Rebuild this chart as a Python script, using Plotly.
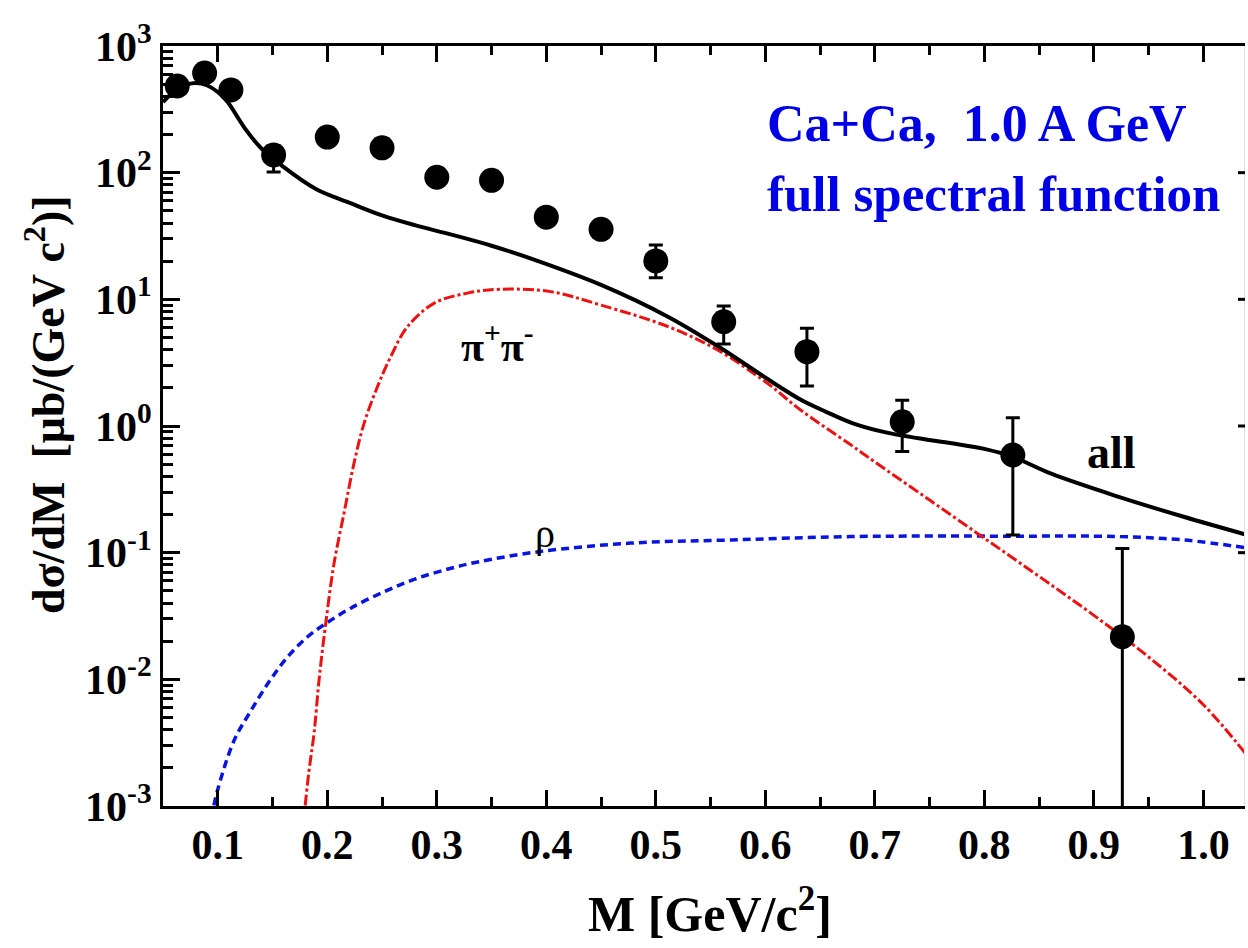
import plotly.graph_objects as go

# ---------------- data ----------------
m_data = [0.063, 0.088, 0.112, 0.151, 0.200, 0.250, 0.300, 0.350, 0.400, 0.450,
          0.500, 0.562, 0.638, 0.725, 0.826, 0.926]
y_data = [483, 612, 450, 138, 191, 157, 92, 87, 44.5, 35.7,
          20.1, 6.65, 3.86, 1.08, 0.59, 0.0217]
err_hi = [0, 0, 0, 25, 0, 0, 0, 0, 0, 0,
          6.7, 2.2, 2.05, 0.52, 0.57, 0.086]
err_lo = [0, 0, 0, 37, 0, 0, 0, 0, 0, 0,
          5.3, 2.21, 1.79, 0.45, 0.452, 0.0216]

m_all = [0.050, 0.065, 0.080, 0.090, 0.100, 0.109, 0.124, 0.139, 0.160, 0.190,
         0.220, 0.250, 0.280, 0.310, 0.350, 0.390, 0.450, 0.511, 0.556, 0.602,
         0.632, 0.655, 0.680, 0.710, 0.740, 0.770, 0.800, 0.826, 0.861, 0.922,
         0.982, 1.040]
y_all = [361, 470, 510, 490, 433, 361, 229, 158, 111, 74,
         58, 46, 38.5, 33, 26.5, 20.4, 13.0, 7.3, 4.3, 2.35,
         1.62, 1.30, 1.05, 0.89, 0.80, 0.73, 0.66, 0.57, 0.42, 0.277,
         0.192, 0.138]

m_pipi = [0.178, 0.183, 0.188, 0.1925, 0.1986, 0.2062, 0.2153, 0.2244, 0.2336, 0.2458,
          0.2579, 0.2732, 0.2974, 0.328, 0.358, 0.404, 0.450, 0.511, 0.556, 0.602,
          0.632, 0.678, 0.700, 0.750, 0.800, 0.850, 0.900, 0.950, 1.000, 1.040]
y_pipi = [0.0007, 0.0018, 0.0038, 0.0099, 0.0277, 0.0824, 0.205, 0.507, 1.05, 2.04,
          3.52, 6.08, 9.3, 11.2, 12.0, 11.5, 9.0, 6.1, 4.0, 2.17,
          1.34, 0.71, 0.52, 0.26, 0.13, 0.065, 0.032, 0.015, 0.0063, 0.0025]

m_rho = [0.094, 0.100, 0.115, 0.130, 0.148, 0.164, 0.182, 0.199, 0.221, 0.252,
         0.282, 0.313, 0.339, 0.394, 0.477, 0.569, 0.678, 0.825, 0.922, 0.982,
         1.040]
y_rho = [0.0008, 0.00135, 0.0033, 0.0056, 0.0099, 0.0151, 0.0217, 0.0277, 0.0363, 0.0492,
         0.0627, 0.0753, 0.085, 0.102, 0.119, 0.126, 0.134, 0.135, 0.134, 0.126,
         0.109]

x_tick_vals = [0.1, 0.2, 0.3, 0.4, 0.5, 0.6, 0.7, 0.8, 0.9, 1.0]
x_tick_text = ["0.1", "0.2", "0.3", "0.4", "0.5", "0.6", "0.7", "0.8", "0.9", "1.0"]
y_tick_vals = [1e-3, 1e-2, 1e-1, 1e0, 1e1, 1e2, 1e3]
y_tick_text = ["10<sup>-3</sup>", "10<sup>-2</sup>", "10<sup>-1</sup>", "10<sup>0</sup>",
               "10<sup>1</sup>", "10<sup>2</sup>", "10<sup>3</sup>"]

# ---------------- layout geometry ----------------
W, H = 1248, 948
L, R, T, B = 163, 1245, 46, 806
PW, PH = R - L, B - T
X_RANGE = [0.05, 1.038]
Y_RANGE = [-3, 3]
SERIF = "Liberation Serif"
DX = (X_RANGE[1] - X_RANGE[0]) / PW      # data units per pixel (x)


def px(xp):
    return (xp - L) / PW


def py(yp):
    return (B - yp) / PH


fig = go.Figure()

fig.add_trace(go.Scatter(x=m_rho, y=y_rho, mode="lines", line_shape="spline",
                         line=dict(color="#0a14e0", width=3.5, dash="8px,5px"),
                         showlegend=False))
fig.add_trace(go.Scatter(x=m_pipi, y=y_pipi, mode="lines", line_shape="spline",
                         line=dict(color="#ee1111", width=3, dash="11px,3px,3px,3px"),
                         showlegend=False))
fig.add_trace(go.Scatter(x=m_all, y=y_all, mode="lines", line_shape="spline",
                         line=dict(color="black", width=4), showlegend=False))
fig.add_trace(go.Scatter(x=m_data, y=y_data, mode="markers",
                         marker=dict(color="black", size=25),
                         error_y=dict(type="data", array=err_hi, arrayminus=err_lo,
                                      symmetric=False, color="black",
                                      thickness=3, width=7),
                         showlegend=False))

# faint right-hand frame with short major ticks (placed through the axes' scales)
fig.add_trace(go.Scatter(x=[X_RANGE[1], X_RANGE[1]],
                         y=[10 ** Y_RANGE[0], 10 ** Y_RANGE[1]], mode="lines",
                         line=dict(color="#e0e0e0", width=2), cliponaxis=False,
                         hoverinfo="skip", showlegend=False))
rx, ry = [], []
for v in y_tick_vals[1:-1]:
    rx += [X_RANGE[1], X_RANGE[1] - 7 * DX, None]
    ry += [v, v, None]
fig.add_trace(go.Scatter(x=rx, y=ry, mode="lines", line=dict(color="black", width=3),
                         cliponaxis=False, hoverinfo="skip", showlegend=False))

axis_font = dict(family=SERIF, size=42, color="black")

fig.update_layout(
    width=W, height=H,
    margin=dict(l=L, r=W - R, t=T, b=H - B),
    plot_bgcolor="white",
    xaxis=dict(range=X_RANGE, showline=True, linecolor="black", linewidth=3,
               mirror="ticks", showgrid=False, zeroline=False,
               ticks="inside", ticklen=16, tickwidth=3, tickcolor="black",
               tickvals=x_tick_vals, ticktext=["<b>%s</b>" % t for t in x_tick_text],
               tickfont=axis_font,
               minor=dict(ticks="inside", ticklen=9, tickwidth=3, tickcolor="black",
                          dtick=0.05, tick0=0, showgrid=False)),
    yaxis=dict(type="log", range=Y_RANGE, showline=True, linecolor="black", linewidth=3,
               showgrid=False, zeroline=False,
               ticks="inside", ticklen=17, tickwidth=3, tickcolor="black",
               tickvals=y_tick_vals, ticktext=["<b>%s</b>" % t for t in y_tick_text],
               tickfont=axis_font,
               minor=dict(ticks="inside", ticklen=10, tickwidth=3, tickcolor="black",
                          dtick="D1", showgrid=False)),
)

ann = []
# y-axis title
ann.append(dict(x=px(45), y=py(405), xref="paper", yref="paper", showarrow=False,
                textangle=-90, xanchor="center", yanchor="middle",
                text="<b>d\u03c3/dM\u00a0\u00a0[\u03bcb/(GeV\u00a0c<sup>2</sup>)]</b>",
                font=dict(family=SERIF, size=46, color="black")))
# x-axis title
ann.append(dict(x=px(710), y=py(910), xref="paper", yref="paper", showarrow=False,
                xanchor="center", yanchor="middle",
                text="<b>M [GeV/c<sup>2</sup>]</b>",
                font=dict(family=SERIF, size=50, color="black")))
# blue caption
ann.append(dict(x=px(765), y=py(123), xref="paper", yref="paper", showarrow=False,
                xanchor="left", yanchor="middle",
                text="<b>Ca+Ca,\u00a0\u00a01.0 A GeV</b>",
                font=dict(family=SERIF, size=52, color="#0000e6")))
ann.append(dict(x=px(765), y=py(194), xref="paper", yref="paper", showarrow=False,
                xanchor="left", yanchor="middle",
                text="<b>full spectral function</b>",
                font=dict(family=SERIF, size=51, color="#0000e6")))
# curve labels
ann.append(dict(x=px(497), y=py(343), xref="paper", yref="paper", showarrow=False,
                xanchor="center", yanchor="middle",
                text="<b>\u03c0<sup>+</sup>\u03c0<sup>-</sup></b>",
                font=dict(family=SERIF, size=42, color="black")))
ann.append(dict(x=px(545), y=py(533), xref="paper", yref="paper", showarrow=False,
                xanchor="center", yanchor="middle",
                text="\u03c1",
                font=dict(family=SERIF, size=40, color="black")))
ann.append(dict(x=px(1111), y=py(453), xref="paper", yref="paper", showarrow=False,
                xanchor="center", yanchor="middle",
                text="<b>all</b>",
                font=dict(family=SERIF, size=46, color="black")))
fig.update_layout(annotations=ann)

fig.write_html("out.html")
